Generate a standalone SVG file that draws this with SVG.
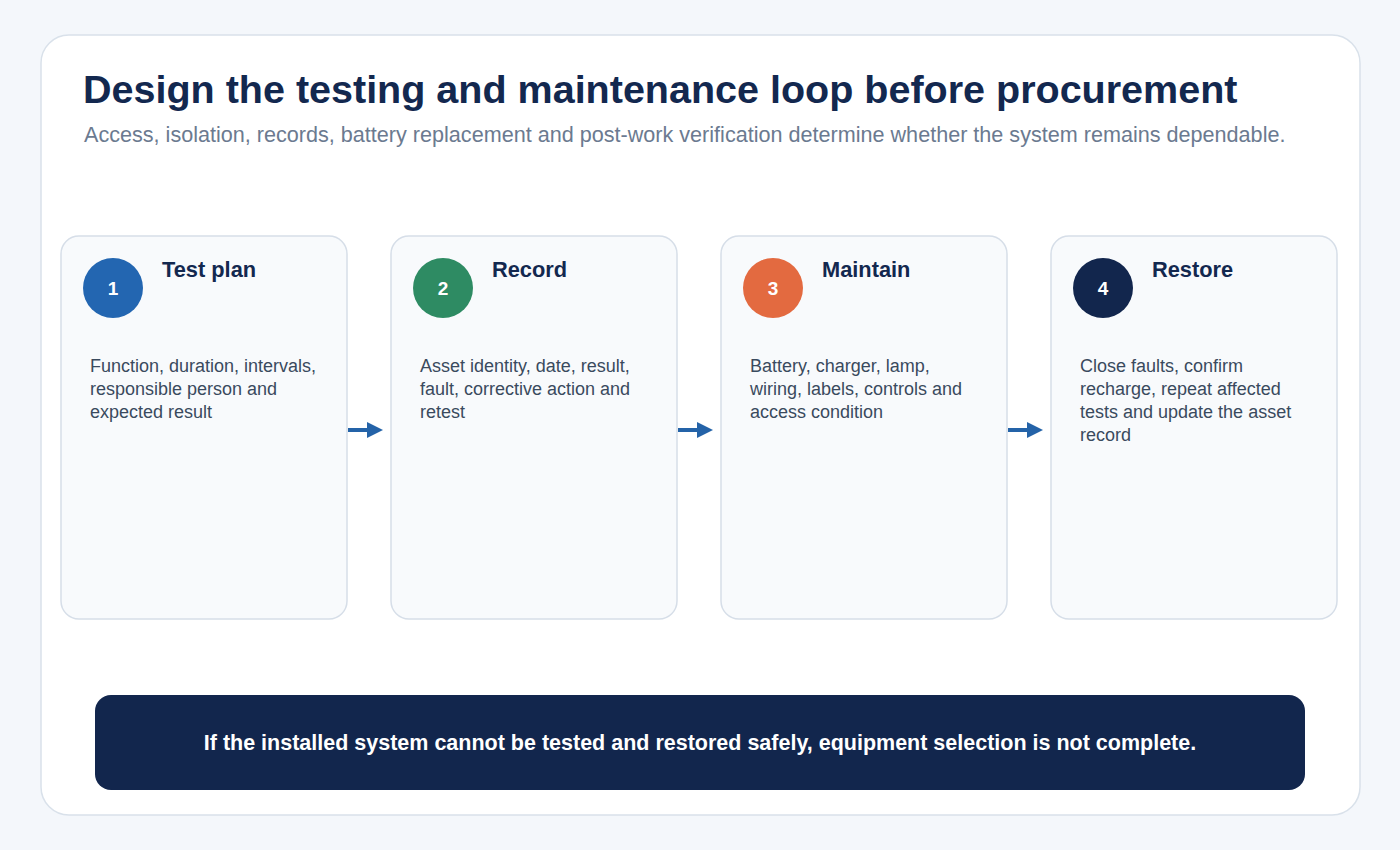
<svg xmlns="http://www.w3.org/2000/svg" width="1400" height="850" viewBox="0 0 1400 850">
<defs>
<style>
.card{fill:#f8fafc;stroke:#d6dee8;stroke-width:1.5}
.ttl{font-family:"Liberation Sans",Arial,sans-serif;font-weight:bold;font-size:21.8px;fill:#13284f}
.num{font-family:"Liberation Sans",Arial,sans-serif;font-weight:bold;font-size:19px;fill:#ffffff}
.body{font-family:"Liberation Sans",Arial,sans-serif;font-size:18px;fill:#3a4a5e}
.conn{stroke:#2463a8;stroke-width:4;fill:none}
</style>
<marker id="ah" markerWidth="4" markerHeight="4" refX="0" refY="2" orient="auto" markerUnits="strokeWidth">
<path d="M0,0 L4,2 L0,4 Z" fill="#2463a8"/>
</marker>
</defs>
<rect x="0" y="0" width="1400" height="850" fill="#f4f7fb"/>
<rect x="41" y="35" width="1319" height="780" rx="28" fill="#ffffff" stroke="#d9e1ea" stroke-width="1.5"/>
<text x="83" y="103" font-family="Liberation Sans, Arial, sans-serif" font-weight="bold" font-size="39.5" fill="#13284f">Design the testing and maintenance loop before procurement</text>
<text x="84" y="142" font-family="Liberation Sans, Arial, sans-serif" font-size="21.6" fill="#6b7a90">Access, isolation, records, battery replacement and post-work verification determine whether the system remains dependable.</text>

<g id="node1">
<rect class="card" x="61" y="236" width="286" height="383" rx="18"/>
<circle cx="113" cy="288" r="30" fill="#2366b1"/>
<text class="num" x="113" y="295" text-anchor="middle">1</text>
<text class="ttl" x="162" y="277">Test plan</text>
<text class="body" x="90" y="372">Function, duration, intervals,</text>
<text class="body" x="90" y="395">responsible person and</text>
<text class="body" x="90" y="418">expected result</text>
</g>
<g id="node2">
<rect class="card" x="391" y="236" width="286" height="383" rx="18"/>
<circle cx="443" cy="288" r="30" fill="#2e8b63"/>
<text class="num" x="443" y="295" text-anchor="middle">2</text>
<text class="ttl" x="492" y="277">Record</text>
<text class="body" x="420" y="372">Asset identity, date, result,</text>
<text class="body" x="420" y="395">fault, corrective action and</text>
<text class="body" x="420" y="418">retest</text>
</g>
<g id="node3">
<rect class="card" x="721" y="236" width="286" height="383" rx="18"/>
<circle cx="773" cy="288" r="30" fill="#e36a40"/>
<text class="num" x="773" y="295" text-anchor="middle">3</text>
<text class="ttl" x="822" y="277">Maintain</text>
<text class="body" x="750" y="372">Battery, charger, lamp,</text>
<text class="body" x="750" y="395">wiring, labels, controls and</text>
<text class="body" x="750" y="418">access condition</text>
</g>
<g id="node4">
<rect class="card" x="1051" y="236" width="286" height="383" rx="18"/>
<circle cx="1103" cy="288" r="30" fill="#12264d"/>
<text class="num" x="1103" y="295" text-anchor="middle">4</text>
<text class="ttl" x="1152" y="277">Restore</text>
<text class="body" x="1080" y="372">Close faults, confirm</text>
<text class="body" x="1080" y="395">recharge, repeat affected</text>
<text class="body" x="1080" y="418">tests and update the asset</text>
<text class="body" x="1080" y="441">record</text>
</g>

<g id="connectors">
<line class="conn" x1="348" y1="430" x2="367" y2="430" marker-end="url(#ah)"/>
<line class="conn" x1="678" y1="430" x2="697" y2="430" marker-end="url(#ah)"/>
<line class="conn" x1="1008" y1="430" x2="1027" y2="430" marker-end="url(#ah)"/>
</g>

<g id="banner">
<rect x="95" y="695" width="1210" height="95" rx="16" fill="#12264d"/>
<text x="700" y="750" text-anchor="middle" font-family="Liberation Sans, Arial, sans-serif" font-weight="bold" font-size="21.5" fill="#ffffff">If the installed system cannot be tested and restored safely, equipment selection is not complete.</text>
</g>
</svg>
